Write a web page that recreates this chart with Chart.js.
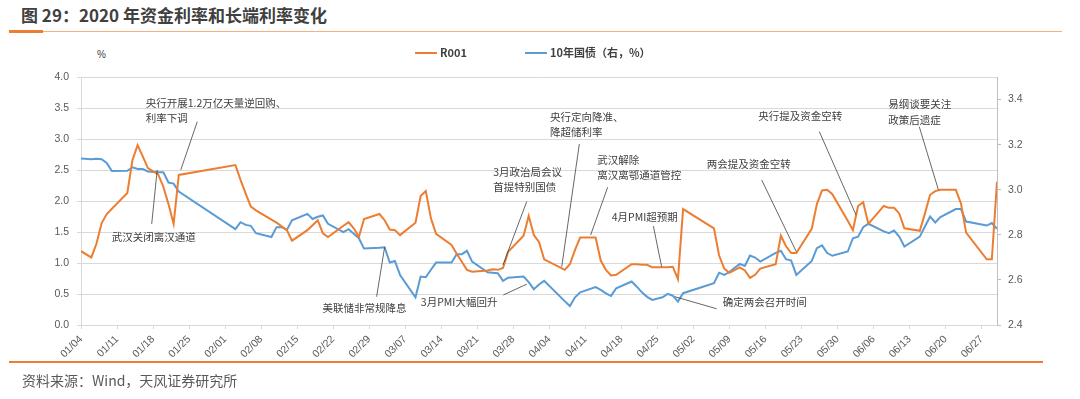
<!DOCTYPE html>
<html>
<head>
<meta charset="utf-8">
<script src="https://cdn.jsdelivr.net/npm/chart.js@4.4.1/dist/chart.umd.min.js"></script>
<style>
    body { margin: 0; width: 1080px; height: 399px; background: #fff; position: relative; overflow: hidden; font-family: "Noto Sans CJK SC", sans-serif; }
    #title { position: absolute; left: 21px; top: 4px; font-size: 17px; font-weight: bold; color: #404040; line-height: 22px; white-space: nowrap; }
    #rule-thick { position: absolute; left: 9px; top: 30px; width: 34px; height: 3px; background: #ED7D31; }
    #rule-thin { position: absolute; left: 43px; top: 31px; width: 1019px; height: 1px; background: #F4B183; }
    #rule-bottom { position: absolute; left: 9px; top: 361px; width: 1034px; height: 2px; background: #ED7D31; }
    #unit { position: absolute; left: 97px; top: 49px; font-size: 10px; color: #404040; font-family: "Liberation Sans", sans-serif; }
    #source { position: absolute; left: 22px; top: 370px; font-size: 14px; color: #595959; line-height: 20px; white-space: nowrap; }
    #chart { position: absolute; left: 0; top: 0; }
</style>
</head>
<body>
<div id="title">图 29：2020 年资金利率和长端利率变化</div>
<div id="rule-thick"></div>
<div id="rule-thin"></div>
<div id="unit">%</div>
<canvas id="chart" width="1080" height="399"></canvas>
<div id="rule-bottom"></div>
<div id="source">资料来源：Wind，天风证券研究所</div>

<script>
// R001 (left axis)
var r001Dates = ['01/04','01/06','01/07','01/08','01/09','01/13','01/14','01/15','01/16','01/17','01/19','01/20','01/21','01/22','01/23',
    '02/03','02/04','02/05','02/06','02/07','02/10','02/11','02/12','02/13','02/14','02/17','02/18','02/19','02/20','02/21','02/24','02/25','02/26','02/27','02/28',
    '03/02','03/03','03/04','03/05','03/06','03/09','03/10','03/11','03/12','03/13','03/16','03/17','03/18','03/19','03/20','03/23','03/24','03/25','03/26','03/27','03/30','03/31',
    '04/01','04/02','04/03','04/07','04/08','04/09','04/10','04/13','04/14','04/15','04/16','04/17','04/20','04/21','04/22','04/23','04/24','04/26','04/27','04/28','04/29','04/30',
    '05/06','05/07','05/08','05/09','05/11','05/12','05/13','05/14','05/15','05/18','05/19','05/20','05/21','05/22','05/25','05/26','05/27','05/28','05/29',
    '06/01','06/02','06/03','06/04','06/05','06/08','06/09','06/10','06/11','06/12','06/15','06/16','06/17','06/18','06/19','06/22','06/23','06/24','06/28','06/29','06/30'];
var r001Values = [1.19,1.09,1.31,1.64,1.79,2.13,2.66,2.90,2.72,2.53,2.43,2.23,1.95,1.63,2.42,
    2.58,2.34,2.12,1.91,1.85,1.70,1.65,1.59,1.53,1.36,1.53,1.61,1.69,1.48,1.42,1.60,1.66,1.56,1.42,1.71,
    1.79,1.69,1.54,1.53,1.45,1.65,2.08,2.16,1.72,1.47,1.29,1.15,1.02,0.89,0.86,0.88,0.90,0.89,0.92,1.18,1.44,1.76,
    1.45,1.34,1.06,0.89,0.98,1.21,1.41,1.41,1.04,0.89,0.80,0.81,0.98,0.98,0.97,0.97,0.93,0.93,0.93,0.94,0.74,1.87,
    1.56,1.12,0.91,0.84,0.93,0.88,0.76,0.81,0.91,0.98,1.44,1.27,1.16,1.16,1.55,1.95,2.17,2.18,2.11,
    1.68,1.53,1.92,1.98,1.63,1.92,1.89,1.89,1.80,1.56,1.52,1.80,2.10,2.16,2.18,2.18,1.96,1.49,1.06,1.06,2.31];

// 10年国债 (right axis)
var bondDates = ['01/04','01/06','01/07','01/08','01/09','01/10','01/13','01/14','01/15','01/16','01/17','01/19','01/20','01/21','01/22','01/23',
    '02/03','02/04','02/05','02/06','02/07','02/10','02/11','02/12','02/13','02/14','02/17','02/18','02/19','02/20','02/21','02/24','02/25','02/26','02/27','02/28',
    '03/02','03/03','03/04','03/05','03/06','03/09','03/10','03/11','03/12','03/13','03/16','03/17','03/18','03/19','03/20','03/23','03/24','03/25','03/26','03/27','03/30','03/31',
    '04/01','04/02','04/03','04/07','04/08','04/09','04/10','04/13','04/14','04/15','04/16','04/17','04/20','04/21','04/22','04/23','04/24','04/26','04/27','04/28','04/29','04/30',
    '05/06','05/07','05/08','05/09','05/11','05/12','05/13','05/14','05/15','05/18','05/19','05/20','05/21','05/22','05/25','05/26','05/27','05/28','05/29',
    '06/01','06/02','06/03','06/04','06/05','06/08','06/09','06/10','06/11','06/12','06/15','06/16','06/17','06/18','06/19','06/22','06/23','06/24','06/28','06/29','06/30'];
var bondValues = [3.139,3.135,3.137,3.135,3.119,3.083,3.084,3.099,3.092,3.092,3.081,3.077,3.077,3.032,3.027,2.992,
    2.825,2.856,2.844,2.840,2.807,2.790,2.834,2.834,2.822,2.864,2.893,2.870,2.880,2.886,2.849,2.812,2.825,2.805,2.785,2.739,
    2.743,2.745,2.677,2.684,2.622,2.523,2.615,2.612,2.645,2.677,2.677,2.714,2.714,2.729,2.681,2.634,2.632,2.630,2.596,2.610,2.615,2.590,
    2.559,2.580,2.596,2.506,2.484,2.523,2.545,2.568,2.556,2.540,2.529,2.563,2.593,2.570,2.545,2.525,2.511,2.523,2.538,2.530,2.504,2.541,
    2.585,2.632,2.622,2.635,2.671,2.662,2.708,2.699,2.681,2.720,2.729,2.692,2.686,2.622,2.684,2.741,2.753,2.719,2.707,
    2.726,2.785,2.792,2.834,2.849,2.815,2.807,2.819,2.792,2.748,2.792,2.837,2.881,2.855,2.879,2.914,2.914,2.859,2.841,2.852,2.827];

var xTickLabels = ['01/04','01/11','01/18','01/25','02/01','02/08','02/15','02/22','02/29','03/07','03/14','03/21','03/28',
    '04/04','04/11','04/18','04/25','05/02','05/09','05/16','05/23','05/30','06/06','06/13','06/20','06/27'];
var leftTicks = [0, 0.5, 1, 1.5, 2, 2.5, 3, 3.5, 4];
var rightTicks = [2.4, 2.6, 2.8, 3.0, 3.2, 3.4];

// event notes: anchored on a series point, offsets in px from that point
var notes = [
    { lines: ['央行开展1.2万亿天量逆回购、', '利率下调'], series: 0, date: '01/23', tx: -33, ty: -72, leader: [18.5, -53.3, 2, -5] },
    { lines: ['武汉关闭离汉通道'], series: 1, date: '01/19', tx: -46.5, ty: 64.3, leader: [-6.5, 51.6, -1, -2.4] },
    { lines: ['美联储非常规降息'], series: 1, date: '03/03', tx: -62, ty: 61, leader: [-8, 49.5, 0, 0] },
    { lines: ['3月政治局会议', '首提特别国债'], series: 0, date: '03/26', tx: -9.7, ty: -96.3, leader: [23.7, -66.3, 0, -3] },
    { lines: ['央行定向降准、', '降超储利率'], series: 0, date: '04/07', tx: -14.7, ty: -153.1, leader: [14.6, -125.8, -3, -3] },
    { lines: ['武汉解除', '离汉离鄂通道管控'], series: 0, date: '04/10', tx: 17, ty: -77.6, leader: [27.5, -50.3, 10.5, -2.6] },
    { lines: ['3月PMI大幅回升'], series: 1, date: '04/01', tx: -113, ty: 13, leader: [-30.5, 5.8, -7, -5] },
    { lines: ['4月PMI超预期'], series: 0, date: '04/27', tx: -55.9, ty: -50.6, leader: [-14.3, -41.3, -6, -0.6] },
    { lines: ['确定两会召开时间'], series: 1, date: '04/28', tx: 50, ty: 6, leader: [2, 1, 43.9, 13.1] },
    { lines: ['两会提及资金空转'], series: 0, date: '05/22', tx: -89.6, ty: -88.8, leader: [-34.6, -73.1, 0, -1.4] },
    { lines: ['央行提及资金空转'], series: 0, date: '06/03', tx: -99.7, ty: -90, leader: [-38.7, -74.3, -2, 9] },
    { lines: ['易纲谈要关注', '政策后遗症'], series: 0, date: '06/19', tx: -52.1, ty: -85.8, leader: [-21.1, -63.1, -2, 0] }
];

var DAY0 = Date.UTC(2020, 0, 4);
function dayOf(s) {
    var p = s.split('/');
    return (Date.UTC(2020, +p[0] - 1, +p[1]) - DAY0) / 86400000;
}
function labelOf(v) {
    var d = new Date(DAY0 + v * 86400000);
    var m = d.getUTCMonth() + 1, dd = d.getUTCDate();
    return (m < 10 ? '0' : '') + m + '/' + (dd < 10 ? '0' : '') + dd;
}
function points(dates, values) {
    return dates.map(function (d, i) { return { x: dayOf(d), y: values[i] }; });
}

var tickFont = { family: "'Liberation Sans', Arial, sans-serif", size: 10.5 };

var notePlugin = {
    id: 'notes',
    afterDatasetsDraw: function (chart) {
        var ctx = chart.ctx;
        ctx.save();
        notes.forEach(function (n) {
            var ds = chart.data.datasets[n.series];
            var pt = ds.data.find(function (p) { return p.x === dayOf(n.date); });
            var ax = chart.scales.x.getPixelForValue(pt.x);
            var ay = chart.scales[ds.yAxisID].getPixelForValue(pt.y);
            ctx.strokeStyle = '#404040';
            ctx.lineWidth = 0.8;
            ctx.beginPath();
            ctx.moveTo(ax + n.leader[0], ay + n.leader[1]);
            ctx.lineTo(ax + n.leader[2], ay + n.leader[3]);
            ctx.stroke();
            ctx.fillStyle = '#404040';
            ctx.font = "10.5px 'Noto Sans CJK SC', sans-serif";
            ctx.textAlign = 'left';
            ctx.textBaseline = 'middle';
            n.lines.forEach(function (t, i) {
                ctx.fillText(t, ax + n.tx, ay + n.ty + i * 15.5);
            });
        });
        ctx.restore();
    }
};

var legendPlugin = {
    id: 'lineLegend',
    afterDraw: function (chart) {
        var ctx = chart.ctx;
        var x = 415, y = 53;
        ctx.save();
        ctx.font = "bold 11px 'Noto Sans CJK SC', sans-serif";
        ctx.textBaseline = 'middle';
        chart.data.datasets.forEach(function (ds) {
            ctx.strokeStyle = ds.borderColor;
            ctx.lineWidth = 2;
            ctx.beginPath();
            ctx.moveTo(x, y);
            ctx.lineTo(x + 22, y);
            ctx.stroke();
            ctx.fillStyle = '#404040';
            ctx.fillText(ds.label, x + 25, y);
            x += 25 + ctx.measureText(ds.label).width + 58;
        });
        ctx.restore();
    }
};

var ctx = document.getElementById('chart').getContext('2d');
var chart = new Chart(ctx, {
    type: 'line',
    data: {
        datasets: [{
            label: 'R001',
            data: points(r001Dates, r001Values),
            borderColor: '#ED7D31',
            backgroundColor: '#ED7D31',
            borderWidth: 2,
            pointRadius: 0,
            tension: 0,
            yAxisID: 'y'
        }, {
            label: '10年国债（右，%）',
            data: points(bondDates, bondValues),
            borderColor: '#5B9BD5',
            backgroundColor: '#5B9BD5',
            borderWidth: 2,
            pointRadius: 0,
            tension: 0,
            yAxisID: 'y1'
        }]
    },
    options: {
        responsive: false,
        animation: false,
        devicePixelRatio: 1,
        layout: { padding: { left: 41, right: 43, top: 77, bottom: 34 } },
        plugins: { legend: { display: false }, tooltip: { enabled: false } },
        scales: {
            x: {
                type: 'linear',
                min: dayOf(r001Dates[0]),
                max: dayOf(r001Dates[r001Dates.length - 1]),
                afterBuildTicks: function (s) { s.ticks = xTickLabels.map(function (l) { return { value: dayOf(l) }; }); },
                afterFit: function (s) { s.height = 40; },
                ticks: {
                    autoSkip: false, minRotation: 45, maxRotation: 45, padding: 4,
                    color: '#595959', font: tickFont,
                    callback: function (v) { return labelOf(v); }
                },
                grid: { drawOnChartArea: false, tickLength: 4, color: '#d9d9d9' },
                border: { color: '#d9d9d9' }
            },
            y: {
                position: 'left',
                min: 0,
                max: 4,
                afterBuildTicks: function (s) { s.ticks = leftTicks.map(function (v) { return { value: v }; }); },
                afterFit: function (s) { s.width = 40; },
                ticks: { padding: 8, color: '#595959', font: tickFont, callback: function (v) { return v.toFixed(1); } },
                grid: { color: '#d9d9d9', tickLength: 4 },
                border: { color: '#d9d9d9' }
            },
            y1: {
                position: 'right',
                min: 2.4,
                max: 3.5,
                afterBuildTicks: function (s) { s.ticks = rightTicks.map(function (v) { return { value: v }; }); },
                afterFit: function (s) { s.width = 40; },
                ticks: { padding: 7, color: '#595959', font: tickFont, callback: function (v) { return v.toFixed(1); } },
                grid: { drawOnChartArea: false, tickLength: 4, color: '#bfbfbf' },
                border: { color: '#bfbfbf' }
            }
        }
    },
    plugins: [notePlugin, legendPlugin]
});
</script>
</body>
</html>
